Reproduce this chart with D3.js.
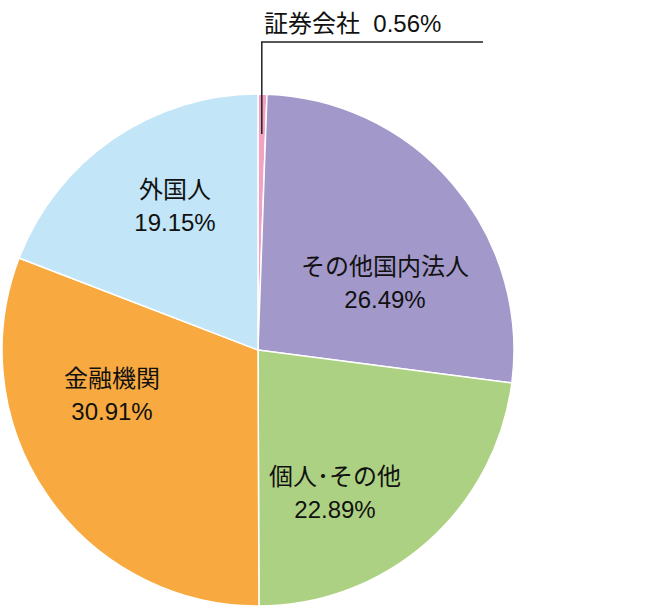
<!DOCTYPE html>
<html>
<head>
<meta charset="utf-8">
<script src="https://cdn.jsdelivr.net/npm/d3@7"></script>
<style>
  body { margin: 0; background: #fff; }
  text { font-family: "Liberation Sans", "Noto Sans CJK JP", sans-serif; fill: #111; }
</style>
</head>
<body>
<div id="chart-area"></div>
<script>
const categories = ['証券会社', 'その他国内法人', '個人･その他', '金融機関', '外国人'];
const shares = [0.56, 26.49, 22.89, 30.91, 19.15];
const colors = ['#f2a3c3', '#a298c9', '#add183', '#f8aa40', '#c2e5f8'];

// label anchors for the inside labels (skip the tiny slice, it gets a leader)
const labelPos = [null, [385, 275], [335, 485], [112, 387], [175, 198]];

const width = 664, height = 616;
const cx = 258, cy = 350, radius = 256;

const svg = d3.select('#chart-area')
    .append('svg')
    .attr('width', width)
    .attr('height', height);

const pie = d3.pie().sort(null).value((d) => d)(shares);
const arc = d3.arc().innerRadius(0).outerRadius(radius);

const g = svg.append('g').attr('transform', `translate(${cx},${cy})`);

g.selectAll('path')
    .data(pie)
    .enter()
    .append('path')
    .attr('d', arc)
    .attr('fill', (d, i) => colors[i])
    .attr('stroke', '#fff')
    .attr('stroke-width', 1.5);

// inside labels
pie.forEach((d, i) => {
    if (!labelPos[i]) return;
    const t = svg.append('text')
        .attr('text-anchor', 'middle')
        .attr('font-size', 24);
    t.append('tspan').attr('x', labelPos[i][0]).attr('y', labelPos[i][1]).text(categories[i]);
    t.append('tspan').attr('x', labelPos[i][0]).attr('y', labelPos[i][1] + 33).text(shares[i].toFixed(2) + '%');
});

// leader for the small slice
const mid = (pie[0].startAngle + pie[0].endAngle) / 2;
const px = cx + Math.sin(mid) * (radius - 40);
svg.append('polyline')
    .attr('points', `${px},${cy - radius + 40} ${px},42 483,42`)
    .attr('fill', 'none')
    .attr('stroke', '#222')
    .attr('stroke-width', 1.5);
svg.append('text')
    .attr('x', 264)
    .attr('y', 32)
    .attr('font-size', 24)
    .attr('xml:space', 'preserve')
    .text(categories[0] + '  ' + shares[0].toFixed(2) + '%');
</script>
</body>
</html>
